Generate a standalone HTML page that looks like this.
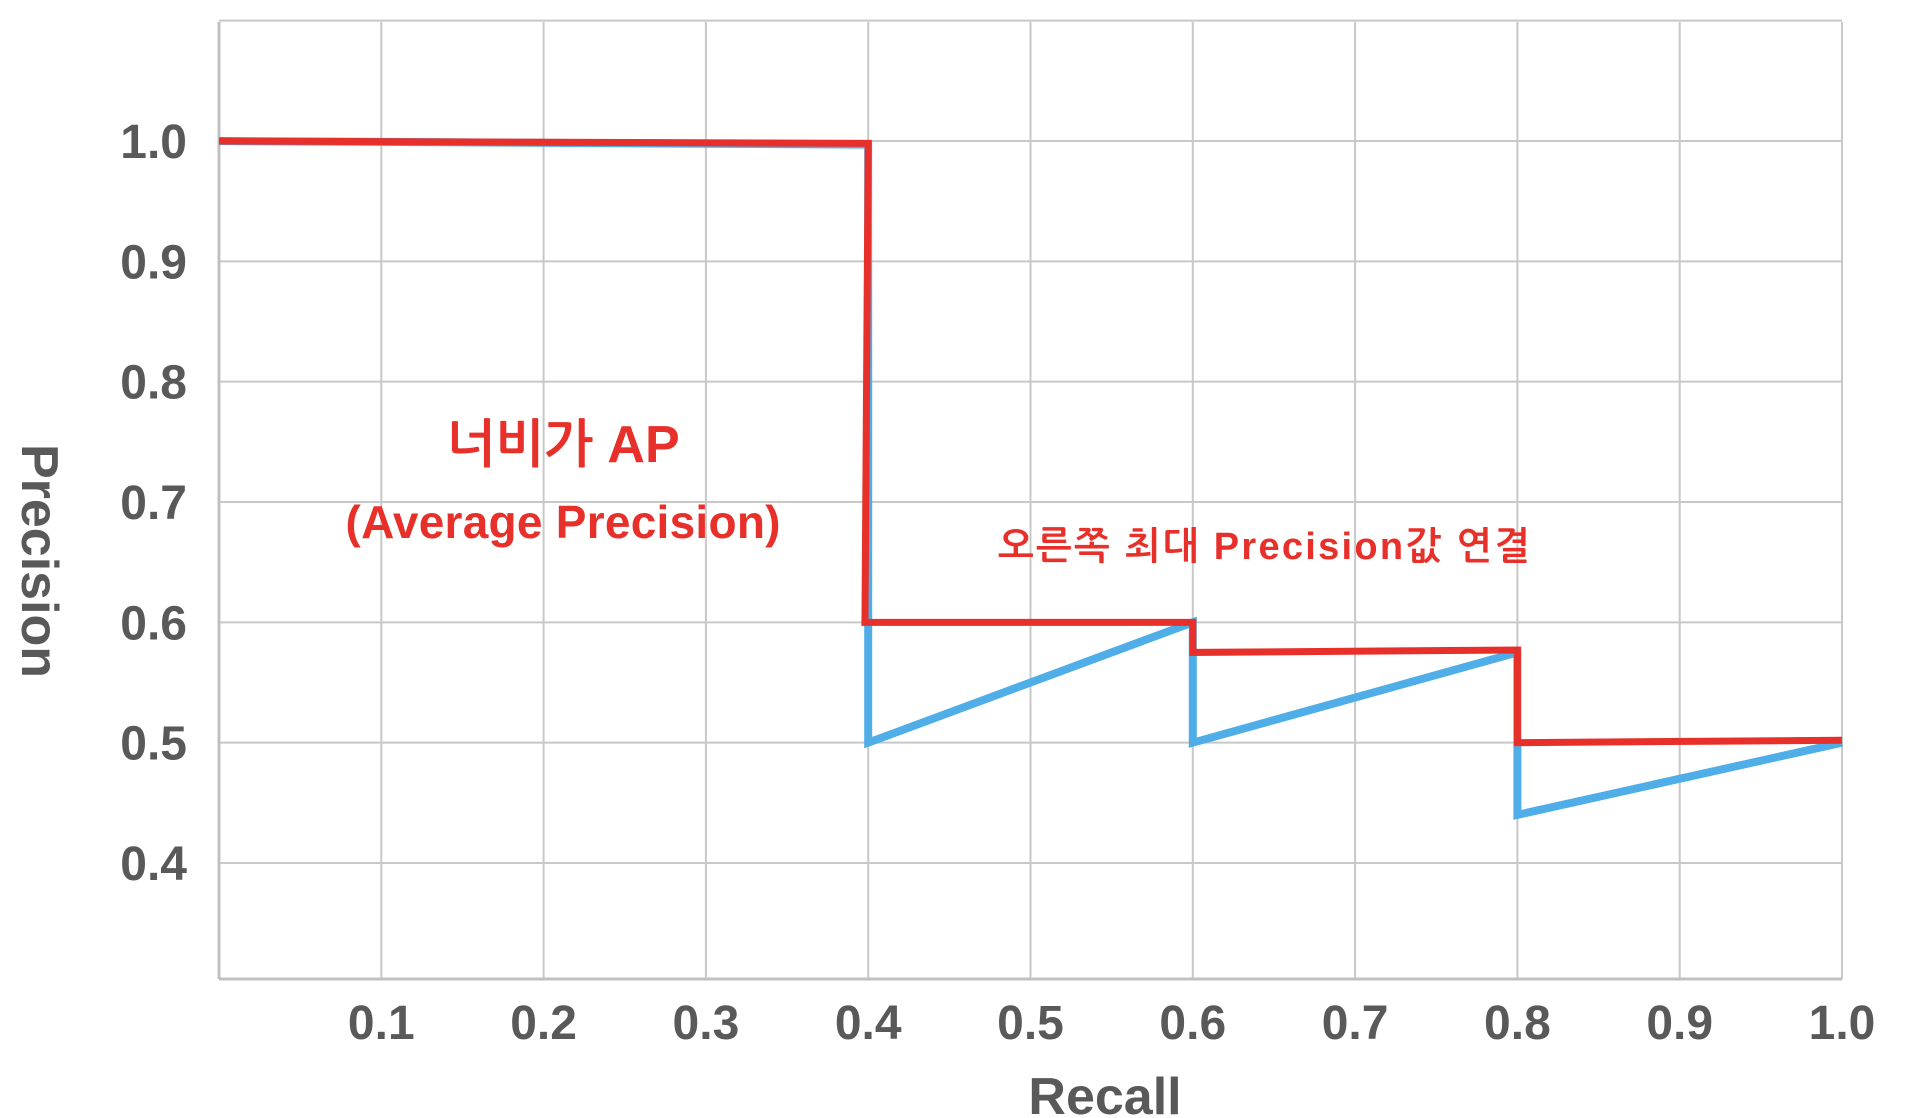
<!DOCTYPE html>
<html><head><meta charset="utf-8"><style>
html,body{margin:0;padding:0;background:#fff;}
svg{display:block;}
text{font-family:"Liberation Sans","NanumGothic","Noto Sans CJK KR",sans-serif;font-weight:bold;}
</style></head><body>
<svg id="chart" width="1910" height="1118" viewBox="0 0 1910 1118" xmlns="http://www.w3.org/2000/svg">
<g id="grid"></g>
<g id="series"></g>
<g id="ticks"></g>
<text x="1105" y="1114" text-anchor="middle" font-size="52" fill="#595959">Recall</text>
<text transform="translate(22,561) rotate(90)" text-anchor="middle" font-size="52" fill="#595959">Precision</text>
<text x="563" y="462" text-anchor="middle" font-size="52" fill="#e8302a">너비가 AP</text>
<text x="563" y="538" text-anchor="middle" font-size="46" fill="#e8302a" textLength="435">(Average Precision)</text>
<text x="998" y="559" font-size="38" fill="#e8302a" textLength="532">오른쪽 최대 Precision값 연결</text>
</svg>
<script>
const xTicks=[0.1,0.2,0.3,0.4,0.5,0.6,0.7,0.8,0.9,1.0];
const yTicks=[0.4,0.5,0.6,0.7,0.8,0.9,1.0];
const blueRecall=[0,0.4,0.4,0.6,0.6,0.8,0.8,1.0];
const bluePrecision=[1.0,0.997,0.5,0.6,0.5,0.575,0.44,0.5];
const redRecall=[0,0.4,0.398,0.6,0.6,0.8,0.8,1.0];
const redPrecision=[1.0,0.998,0.6,0.6,0.575,0.577,0.5,0.502];
const NS="http://www.w3.org/2000/svg";
const X0=219,X1=1842,Y0=979,YT=22;
function sx(v){return X0+(X1-X0)*v;}
function sy(v){return 141+(1.0-v)*(863-141)/0.6;}
const grid=document.getElementById('grid'),ticks=document.getElementById('ticks'),series=document.getElementById('series');
function mk(tag,attrs,parent){const e=document.createElementNS(NS,tag);for(const k in attrs)e.setAttribute(k,attrs[k]);parent.appendChild(e);return e;}
xTicks.forEach(v=>{
  const l=mk('line',{x1:sx(v),x2:sx(v),y1:YT,y2:Y0,stroke:'#c8c8c8','stroke-width':2},grid);
  
  
  const t=mk('text',{x:sx(v),y:1039,'text-anchor':'middle','font-size':48,fill:'#595959'},ticks);
  t.textContent=v.toFixed(1);
  
  
});
[...yTicks,1.1].forEach(v=>{
  const l=mk('line',{x1:X0,x2:X1,y1:sy(v),y2:sy(v),stroke:'#c8c8c8','stroke-width':2},grid);
  
  
});
yTicks.forEach(v=>{
  const t=mk('text',{x:187,y:sy(v)+17,'text-anchor':'end','font-size':48,fill:'#595959'},ticks);
  t.textContent=v.toFixed(1);
  
  
});
const ax=mk('line',{x1:X0,x2:X0,y1:YT,y2:Y0,stroke:'#c0c0c0','stroke-width':3},grid);


const bx=mk('line',{x1:X0,x2:X1,y1:Y0,y2:Y0,stroke:'#c0c0c0','stroke-width':3},grid);


function pts(xs,ys){return xs.map((x,i)=>sx(x)+','+sy(ys[i])).join(' ');}
const b=mk('polyline',{points:pts(blueRecall,bluePrecision),fill:'none',stroke:'#4fade8','stroke-width':8,'stroke-linejoin':'miter'},series);


const r=mk('polyline',{points:pts(redRecall,redPrecision),fill:'none',stroke:'#e8302a','stroke-width':7,'stroke-linejoin':'miter'},series);


</script>
</body></html>
